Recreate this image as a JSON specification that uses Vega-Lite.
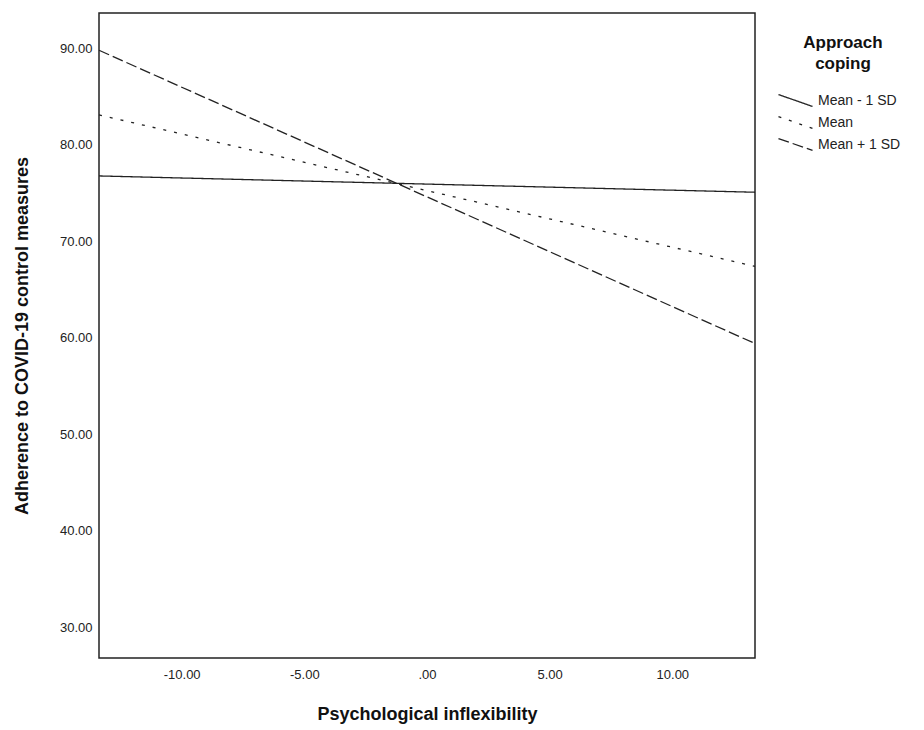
{
  "$schema": "https://vega.github.io/schema/vega-lite/v6.json",
  "width": 656,
  "height": 645,
  "autosize": {"type": "none"},
  "padding": {"left": 99, "top": 13, "right": 169, "bottom": 72},
  "background": "white",
  "config": {
    "view": {"stroke": "#222222", "strokeWidth": 1.5},
    "font": "Liberation Sans",
    "axis": {"labelFont": "Liberation Sans", "titleFont": "Liberation Sans", "labelColor": "#222222", "titleColor": "#111111", "grid": false, "domain": false, "ticks": false}
  },
  "data": {
    "values": [
      {"x": -13.37, "y": 76.77, "group": "Mean - 1 SD"},
      {"x": 13.37, "y": 75.08, "group": "Mean - 1 SD"},
      {"x": -13.37, "y": 83.1, "group": "Mean"},
      {"x": 13.37, "y": 67.4, "group": "Mean"},
      {"x": -13.37, "y": 89.8, "group": "Mean + 1 SD"},
      {"x": 13.37, "y": 59.4, "group": "Mean + 1 SD"}
    ]
  },
  "mark": {"type": "line", "color": "#222222", "strokeWidth": 1.3},
  "encoding": {
    "x": {
      "field": "x", "type": "quantitative",
      "scale": {"domain": [-13.37, 13.37], "nice": false, "zero": false},
      "axis": {
        "values": [-10, -5, 0, 5, 10],
        "labelExpr": "datum.value == 0 ? '.00' : replace(format(datum.value, '.2f'), '\u2212', '-')",
        "labelFontSize": 13, "labelPadding": 10,
        "title": "Psychological inflexibility", "titleFontSize": 18, "titleFontWeight": "bold", "titlePadding": 24
      }
    },
    "y": {
      "field": "y", "type": "quantitative",
      "scale": {"domain": [26.8, 93.66], "nice": false, "zero": false},
      "axis": {
        "values": [30, 40, 50, 60, 70, 80, 90],
        "format": ".2f",
        "labelFontSize": 13, "labelPadding": 7,
        "title": "Adherence to COVID-19 control measures", "titleFontSize": 18, "titleFontWeight": "bold", "titlePadding": 28
      }
    },
    "strokeDash": {
      "field": "group", "type": "nominal",
      "scale": {"domain": ["Mean - 1 SD", "Mean", "Mean + 1 SD"], "range": [[1, 0], [3, 8], [11, 4]]},
      "legend": {
        "orient": "none", "legendX": 687, "legendY": 22,
        "title": ["Approach", "coping"],
        "titleFontSize": 17, "titleFontWeight": "bold", "titleColor": "#111111",
        "titleAnchor": "middle", "titleAlign": "center", "titleLineHeight": 21, "titlePadding": 18,
        "labelFontSize": 14, "labelColor": "#222222", "labelOffset": 13,
        "symbolType": "M-2,-0.7L2,0.7", "symbolSize": 290, "symbolStrokeWidth": 1.3, "symbolStrokeColor": "#222222",
        "rowPadding": 3, "padding": 0
      }
    }
  }
}
